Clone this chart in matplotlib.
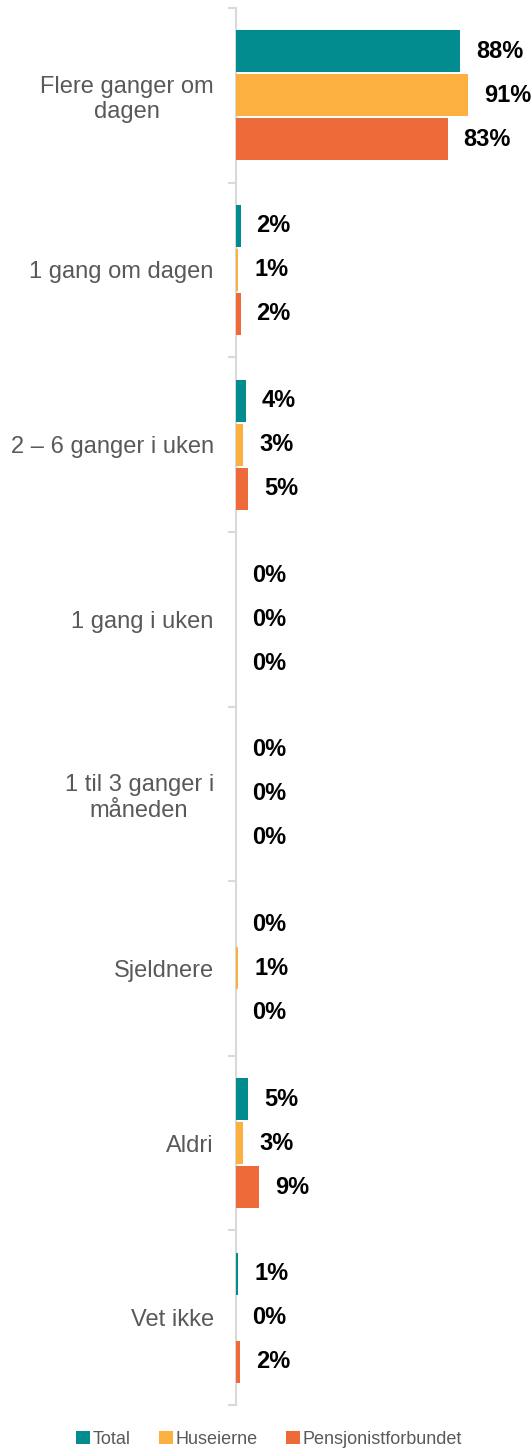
import matplotlib
matplotlib.use("Agg")
import matplotlib.pyplot as plt
from matplotlib.patches import Patch
import numpy as np

plt.rcParams['font.family'] = ['Liberation Sans', 'DejaVu Sans']

categories = ["Flere ganger om\ndagen", "1 gang om dagen", "2 – 6 ganger i uken",
              "1 gang i uken", "1 til 3 ganger i\nmåneden", "Sjeldnere", "Aldri", "Vet ikke"]
series_names = ["Total", "Huseierne", "Pensjonistforbundet"]
total = [88, 1.8, 3.9, 0, 0, 0, 4.8, 0.8]
huseierne = [91, 0.8, 2.8, 0, 0, 0.8, 2.8, 0]
pensjonist = [83, 1.8, 4.8, 0, 0, 0, 9.0, 1.6]
colors = ["#028C8F", "#FBB040", "#EE6A38"]

W, H = 532, 1450
fig = plt.figure(figsize=(W / 100, H / 100), dpi=100)
ax_left = 236 / W
ax_top = 1 - 8 / H
ax_bot = 1 - 1405 / H
ax = fig.add_axes([ax_left, ax_bot, 1 - ax_left, ax_top - ax_bot])

n = len(categories)
ypos = np.arange(n)
step = 0.252
bh = 0.24
for k, (vals, col) in enumerate(zip([total, huseierne, pensjonist], colors)):
    yy = ypos + (k - 1) * step
    ax.barh(yy, vals, height=bh, color=col, edgecolor="none", linewidth=0, zorder=3)
    for v, y in zip(vals, yy):
        ax.annotate(f"{int(np.floor(v + 0.5))}%",
                    xy=(v, y), xytext=(11.5, 0), textcoords="offset points",
                    ha="left", va="center", fontsize=17, fontweight="bold", color="black")

ax.set_xlim(0, (W - 236) / 2.55)
ax.set_ylim(n - 0.5, -0.5)
ax.set_xticks([])
ax.set_yticks(ypos)
ax.set_yticklabels(categories, fontsize=17, color="#595959", multialignment="center",
                   linespacing=1.2)
ax.tick_params(axis="y", which="major", length=0, pad=16)
ax.set_yticks(np.arange(-0.5, n + 0.5, 1), minor=True)
ax.tick_params(axis="y", which="minor", length=6, width=1.5, color="#D9D9D9")
for s in ["top", "right", "bottom"]:
    ax.spines[s].set_visible(False)
ax.spines["left"].set_color("#D9D9D9")
ax.spines["left"].set_linewidth(1.5)
ax.spines["left"].set_zorder(1)

handles = [Patch(facecolor=c, edgecolor="none") for c in colors]
fig.legend(handles, series_names, loc="center", bbox_to_anchor=(269 / W, 1 - 1439 / H),
           ncol=3, frameon=False, fontsize=13, labelcolor="#595959",
           handlelength=0.75, handleheight=0.75, handletextpad=0.15, columnspacing=1.6)

fig.savefig("out.png", dpi=100)
